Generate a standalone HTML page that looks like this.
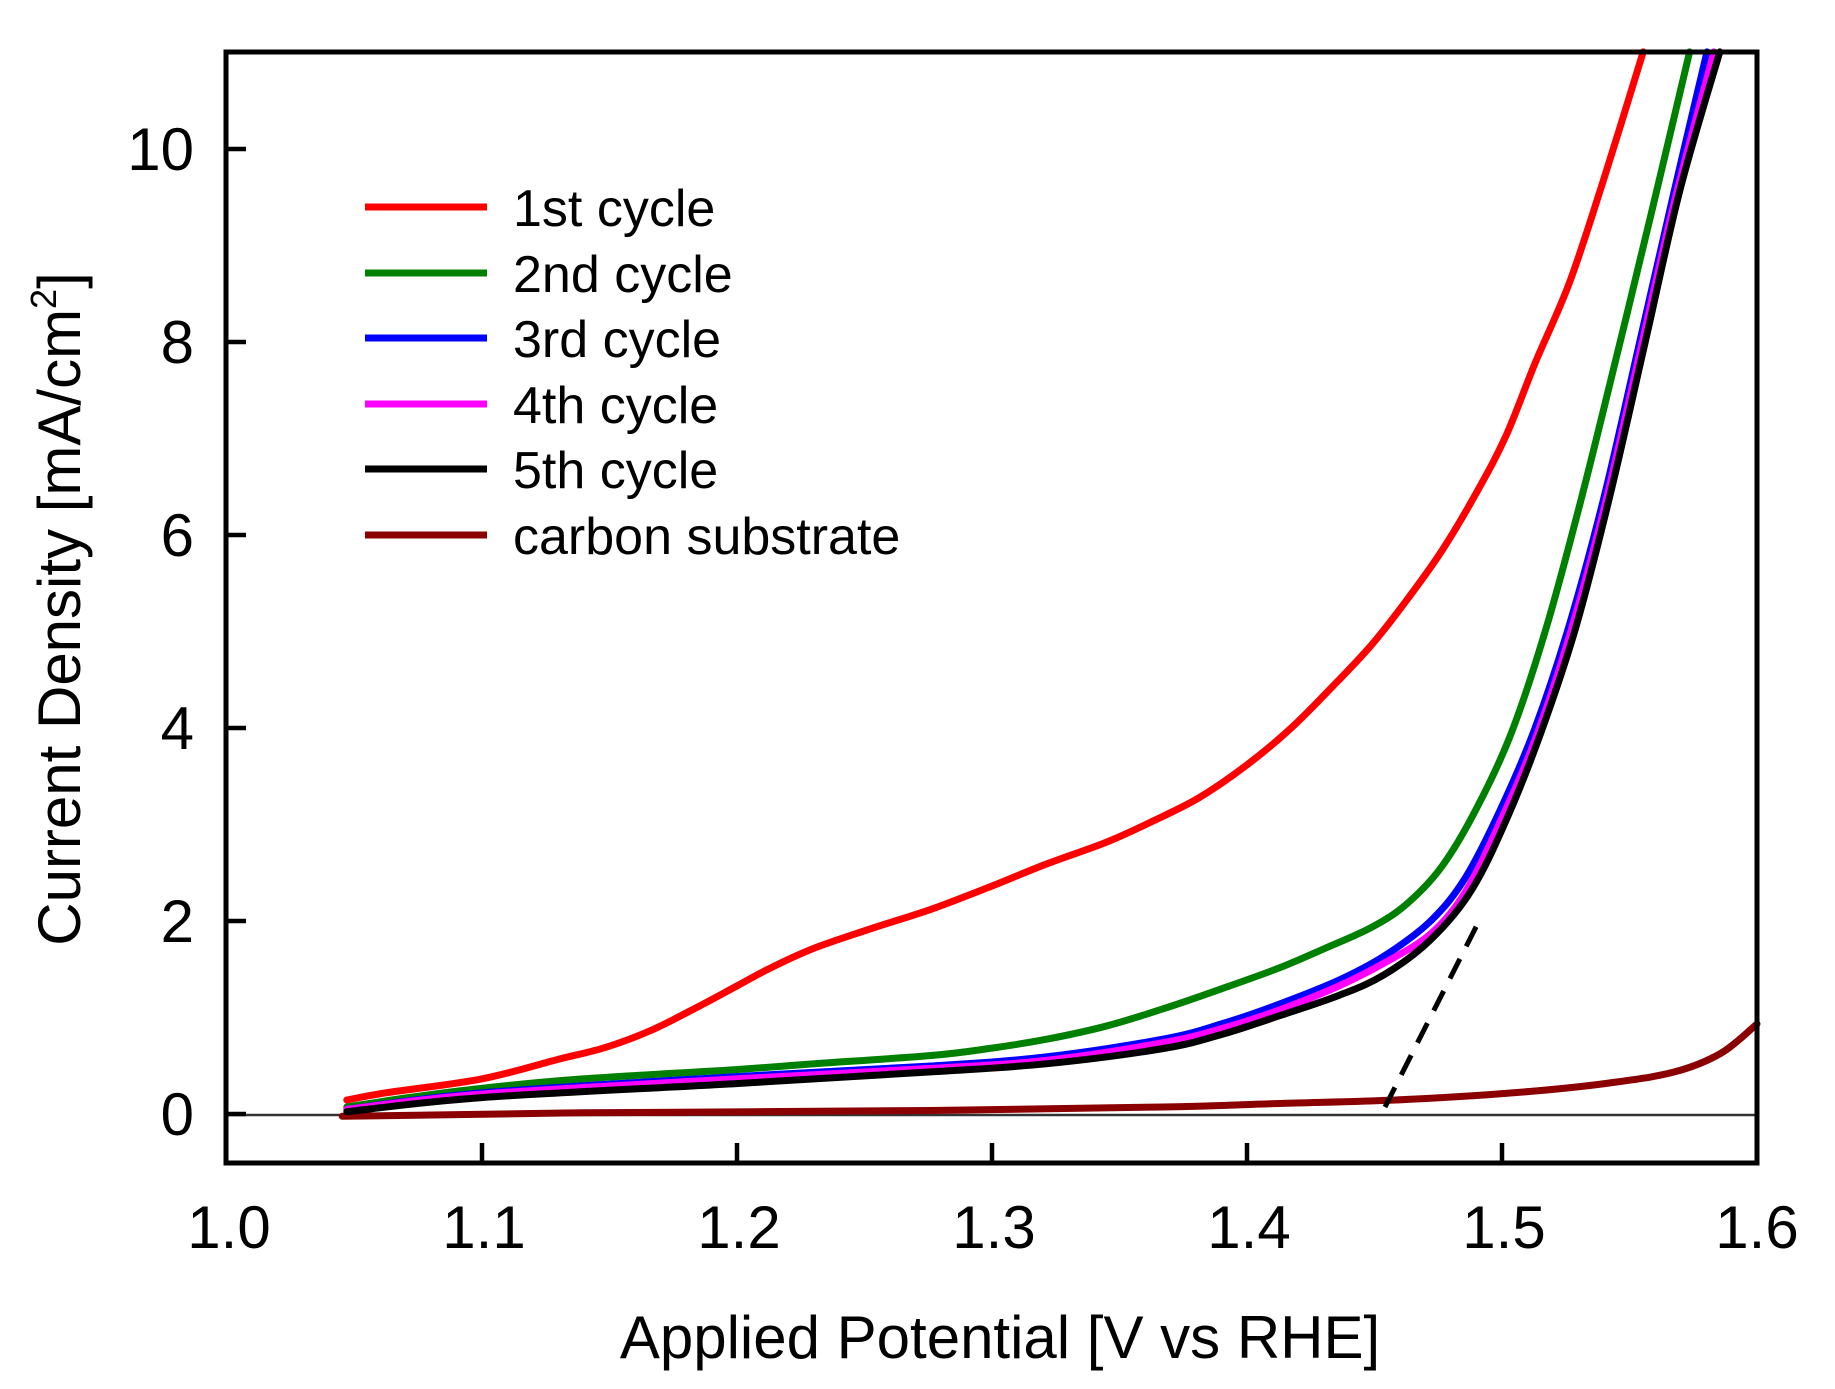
<!DOCTYPE html>
<html><head><meta charset="utf-8"><style>
html,body{margin:0;padding:0;background:#fff;}
svg{display:block;}
text{font-family:"Liberation Sans",Arial,sans-serif;fill:#000;}
</style></head><body>
<svg id="s" width="1835" height="1389" viewBox="0 0 1835 1389" xmlns="http://www.w3.org/2000/svg">
<rect width="1835" height="1389" fill="#fff"/>
<line x1="226" y1="1115" x2="1757" y2="1115" stroke="#333" stroke-width="2.5"/>
<g id="curves" fill="none" stroke-width="7" stroke-linejoin="round" stroke-linecap="round"></g>
<line x1="1385" y1="1107" x2="1477" y2="925" stroke="#000" stroke-width="5" stroke-dasharray="22,14"/>
<rect x="226" y="52" width="1531" height="1111" fill="none" stroke="#000" stroke-width="5"/>
<g stroke="#000" stroke-width="4.5">
<line x1="226" y1="149" x2="246" y2="149"/><line x1="226" y1="342" x2="246" y2="342"/>
<line x1="226" y1="535" x2="246" y2="535"/><line x1="226" y1="728" x2="246" y2="728"/>
<line x1="226" y1="921" x2="246" y2="921"/><line x1="226" y1="1114" x2="246" y2="1114"/>
<line x1="482" y1="1163" x2="482" y2="1143"/><line x1="737" y1="1163" x2="737" y2="1143"/>
<line x1="992" y1="1163" x2="992" y2="1143"/><line x1="1247" y1="1163" x2="1247" y2="1143"/>
<line x1="1502" y1="1163" x2="1502" y2="1143"/>
</g>
<g font-size="60" text-anchor="end">
<text x="194" y="170">10</text><text x="194" y="363">8</text><text x="194" y="556">6</text>
<text x="194" y="749">4</text><text x="194" y="942">2</text><text x="194" y="1135">0</text>
</g>
<g font-size="60" text-anchor="middle">
<text x="229" y="1248">1.0</text><text x="484" y="1248">1.1</text><text x="739" y="1248">1.2</text>
<text x="994" y="1248">1.3</text><text x="1249" y="1248">1.4</text><text x="1504" y="1248">1.5</text><text x="1757" y="1248">1.6</text>
</g>
<text x="1000" y="1358" font-size="60" text-anchor="middle">Applied Potential [V vs RHE]</text>
<text transform="translate(80,609) rotate(-90)" font-size="60" text-anchor="middle">Current Density [mA/cm<tspan dy="-24" font-size="36">2</tspan><tspan dy="24">]</tspan></text>
<g stroke-width="7">
<line x1="365" y1="207" x2="487" y2="207" stroke="#ff0000"/>
<line x1="365" y1="273" x2="487" y2="273" stroke="#008000"/>
<line x1="365" y1="338" x2="487" y2="338" stroke="#0000ff"/>
<line x1="365" y1="404" x2="487" y2="404" stroke="#ff00ff"/>
<line x1="365" y1="469" x2="487" y2="469" stroke="#000"/>
<line x1="365" y1="535" x2="487" y2="535" stroke="#8b0000"/>
</g>
<g font-size="52">
<text x="513" y="226">1st cycle</text>
<text x="513" y="292">2nd cycle</text>
<text x="513" y="357">3rd cycle</text>
<text x="513" y="423">4th cycle</text>
<text x="513" y="488">5th cycle</text>
<text x="513" y="554">carbon substrate</text>
</g>
</svg>
<script>
var X=function(d){return 226+(d-193)*1.1616;},Y=function(d){return 1114-(952-d)*1.1697;};
var series=[
["#8b0000",[[293,954],[500,951],[800,949],[1000,946],[1100,943],[1200,940],[1300,934],[1380,926],[1440,916],[1480,900],[1511,875]]],
["#ff0000",[[297,940],[330,934],[413,922],[480,905],[520,895],[560,880],[600,860],[632,843],[660,828],[700,810],[750,793],[800,777],[850,758],[900,738],[950,720],[990,702],[1030,682],[1070,655],[1110,622],[1150,582],[1180,550],[1210,512],[1240,470],[1270,420],[1295,372],[1320,310],[1350,240],[1380,150],[1413,44]]],
["#008000",[[297,946],[350,938],[413,930],[500,922],[632,914],[700,909],[800,902],[850,896],[900,888],[950,877],[1000,862],[1050,845],[1100,827],[1140,810],[1180,792],[1210,772],[1240,740],[1270,690],[1300,625],[1330,535],[1360,425],[1390,305],[1420,182],[1453,44]]],
["#0000ff",[[297,948],[413,934],[632,920],[800,911],[900,903],[1000,888],[1050,875],[1100,858],[1150,838],[1190,817],[1230,787],[1260,750],[1290,692],[1320,622],[1350,532],[1380,422],[1410,292],[1440,162],[1468,44]]],
["#ff00ff",[[297,948],[413,935],[632,922],[800,913],[900,906],[1000,891],[1050,879],[1100,863],[1150,843],[1190,823],[1230,798],[1260,762],[1290,702],[1320,632],[1350,542],[1380,432],[1410,302],[1440,172],[1474,44]]],
["#000000",[[297,950],[413,938],[632,926],[800,916],[900,909],[1000,896],[1050,884],[1100,868],[1150,851],[1190,833],[1230,803],[1265,761],[1295,701],[1325,626],[1355,536],[1385,421],[1415,291],[1445,161],[1479,44]]]
];
var g=document.getElementById("curves"),ns="http://www.w3.org/2000/svg";
series.forEach(function(s){
 var p=s[1].map(function(q){return [X(q[0]),Y(q[1])];});
 var d="M"+p[0][0].toFixed(1)+","+p[0][1].toFixed(1);
 for(var i=0;i<p.length-1;i++){
  var p0=p[i-1]||p[i],p1=p[i],p2=p[i+1],p3=p[i+2]||p2;
  var c1x=p1[0]+(p2[0]-p0[0])/6,c1y=p1[1]+(p2[1]-p0[1])/6,c2x=p2[0]-(p3[0]-p1[0])/6,c2y=p2[1]-(p3[1]-p1[1])/6;
  d+=" C"+c1x.toFixed(1)+","+c1y.toFixed(1)+" "+c2x.toFixed(1)+","+c2y.toFixed(1)+" "+p2[0].toFixed(1)+","+p2[1].toFixed(1);
 }
 var e=document.createElementNS(ns,"path");e.setAttribute("d",d);e.setAttribute("stroke",s[0]);g.appendChild(e);
});
</script>
</body></html>
